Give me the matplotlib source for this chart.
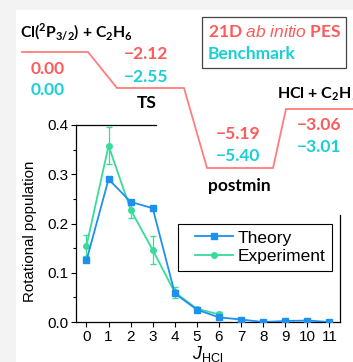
import numpy as np
import matplotlib
matplotlib.use("Agg")
import matplotlib.pyplot as plt

# rotational population data (inset)
j_theory = np.arange(0, 12)
pop_theory = [0.125, 0.290, 0.244, 0.231, 0.058, 0.025, 0.0095, 0.005, 0.0, 0.002, 0.003, 0.0]
j_exp = np.arange(0, 7)
pop_exp = [0.155, 0.358, 0.228, 0.146, 0.060, 0.027, 0.0155]
err_exp = [0.022, 0.038, 0.016, 0.029, 0.012, 0.004, 0.005]

# energy diagram data
species = [r"Cl($^{\mathbf{2}}$P$_{\mathbf{3/2}}$) + C$_{\mathbf{2}}$H$_{\mathbf{6}}$", "TS", "postmin",
           r"HCl + C$_{\mathbf{2}}$H$_{\mathbf{5}}$"]
e_pes = [0.00, -2.12, -5.19, -3.06]
e_bench = [0.00, -2.55, -5.40, -3.01]

RED = "#ff5a5a"
CYAN = "#1ad0d6"
LINE = "#ff7d7d"
BLUE = "#1e90f0"
GREEN = "#36dc98"

plt.rcParams["font.family"] = ["Liberation Sans", "DejaVu Sans"]
plt.rcParams["mathtext.fontset"] = "custom"
plt.rcParams["mathtext.rm"] = "Lato:bold"
plt.rcParams["mathtext.bf"] = "Lato:bold"
plt.rcParams["mathtext.it"] = "Liberation Sans:italic"
plt.rcParams["mathtext.sf"] = "Liberation Sans"

fig = plt.figure(figsize=(3.53, 3.62), dpi=100, facecolor="#f3f3f3")
W, H = 353, 362

# white panel
bg = fig.add_axes([0, 0, 1, 1], zorder=0)
bg.set_xlim(0, W)
bg.set_ylim(H, 0)
bg.axis("off")
bg.add_patch(plt.Rectangle((16, 10), W - 16, H - 10, color="white", lw=0))

# inset: rotational populations
ax = fig.add_axes([76 / W, 1 - 322 / H, 264 / W, 197 / H], zorder=1)
ax.patch.set_alpha(0)
ax.plot(j_theory, pop_theory, color=BLUE, marker="s", ms=4, lw=1.3, label="Theory", zorder=3)
ax.errorbar(j_exp, pop_exp, yerr=err_exp, fmt="none", ecolor=GREEN, elinewidth=0.9, capsize=2, zorder=2)
ax.plot(j_exp, pop_exp, color=GREEN, marker="o", ms=4, lw=1.3, label="Experiment", zorder=2)
ax.set_xlim(-0.475, 11.48)
ax.set_ylim(0, 0.4)
ax.set_xticks(j_theory)
ax.set_yticks([0, 0.1, 0.2, 0.3, 0.4])
ax.set_yticks(np.arange(0.05, 0.4, 0.1), minor=True)
ax.tick_params(labelsize=11, length=3.5, width=0.8, pad=2)
ax.tick_params(which="minor", length=2, width=0.8)
ax.spines["top"].set_bounds(-0.475, 3.15)
ax.spines["right"].set_bounds(0, 0.217)
for s in ax.spines.values():
    s.set_linewidth(0.9)
ax.set_ylabel("Rotational population", fontsize=10.8)
ax.yaxis.set_label_coords(-0.148, 0.46)
ax.set_xlabel(r"$\mathit{J}_{\mathsf{HCl}}$", fontsize=13, labelpad=0)

# legend: frame drawn separately to get the wide left margin
ax.add_patch(plt.Rectangle((0.386, 0.259), 0.583, 0.239, transform=ax.transAxes,
                           fc="white", ec="black", lw=0.8, clip_on=False, zorder=4))
leg = ax.legend(loc="upper left", bbox_to_anchor=(0.451, 0.465), fontsize=12.5, frameon=False,
                handlelength=2.18, handletextpad=0.29, borderpad=0, labelspacing=0.2,
                borderaxespad=0)
leg.set_zorder(5)

# energy diagram, drawn in pixel-like units
d = fig.add_axes([0, 0, 1, 1], zorder=2)
d.set_xlim(0, W)
d.set_ylim(H, 0)
d.axis("off")
level_x = [22, 117, 207, 286]
level_w = [66, 67, 66, 67]
level_y = [52, 88, 168, 109]
px, py = [], []
for x0, w, y in zip(level_x, level_w, level_y):
    px += [x0, x0 + w]
    py += [y, y]
d.plot(px, py, color=LINE, lw=1.3, solid_joinstyle="miter")

lab = dict(fontfamily=["Lato", "DejaVu Sans"], fontweight="bold", fontsize=12.5)
fmt = lambda v: f"{v:.2f}".replace("-", "\u2212")
name_pos = [(20, 32, "left"), (147, 103, "center"), (239, 186, "center"), (277, 94, "left")]
name_size = [11.3, 12.5, 12.5, 11.5]
pes_pos = [(48, 69), (146, 54), (238, 134), (319, 125)]
bench_pos = [(48, 90), (146, 77), (238, 156), (319, 147)]
for i in range(4):
    x, y, ha = name_pos[i]
    d.text(x, y, species[i], ha=ha, va="center", color="black", **{**lab, "fontsize": name_size[i]})
    d.text(*pes_pos[i], fmt(e_pes[i]), ha="center", va="center", color=RED, **lab)
    d.text(*bench_pos[i], fmt(e_bench[i]), ha="center", va="center", color=CYAN, **lab)

# method box
d.add_patch(plt.Rectangle((202, 17), 144, 51, fill=False, ec="#444444", lw=0.9))
d.text(208, 32, r"21D $\mathit{ab\ initio}$ PES", ha="left", va="center", color=RED, **lab)
d.text(208, 54, "Benchmark", ha="left", va="center", color=CYAN, **lab)

fig.savefig("out.png", dpi=100, facecolor=fig.get_facecolor())
